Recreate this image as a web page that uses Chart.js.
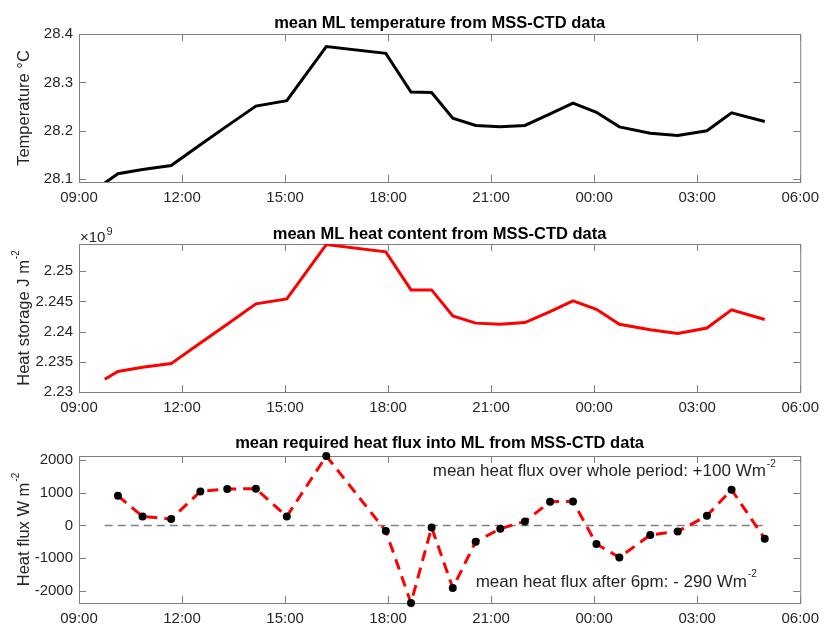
<!DOCTYPE html>
<html>
<head>
<meta charset="utf-8">
<script src="https://cdn.jsdelivr.net/npm/chart.js@4.4.0/dist/chart.umd.min.js"></script>
<style>
  body { margin: 0; background: #fff; }
  #wrap { position: relative; width: 826px; height: 627px; }
  #wrap canvas { position: absolute; left: 0; top: 0; }
</style>
</head>
<body>
<div id="wrap">
  <canvas id="tempChart" width="826" height="627"></canvas>
  <canvas id="heatChart" width="826" height="627"></canvas>
  <canvas id="fluxChart" width="826" height="627"></canvas>
</div>
<script>
// profile times (local time, run starts 09:00)
const times = ["09:45", "10:08", "10:51", "11:41", "12:32", "13:19", "14:09", "15:03", "16:12",
    "17:56", "18:40", "19:16", "19:53", "20:33", "21:16", "21:59", "22:43", "23:23",
    "00:04", "00:44", "01:38", "02:26", "03:17", "04:00", "04:58"];

// mean mixed layer temperature, degC
const temperature = [28.092, 28.111, 28.120, 28.128, 28.171, 28.210, 28.251, 28.262, 28.374,
    28.360, 28.280, 28.279, 28.226, 28.211, 28.208, 28.211, 28.235, 28.257,
    28.238, 28.208, 28.195, 28.190, 28.200, 28.237, 28.219];

// mean mixed layer heat content, x 10^9 J m^-2
const heatContent = [2.2321, 2.2334, 2.2341, 2.2347, 2.2381, 2.2412, 2.2446, 2.2454, 2.2544,
    2.2532, 2.2469, 2.2469, 2.2426, 2.2414, 2.2412, 2.2415, 2.2433, 2.2451,
    2.2437, 2.2412, 2.2403, 2.2397, 2.2406, 2.2436, 2.2420];

// required heat flux, W m^-2 (one value per profile, from the 2nd profile on)
const heatFlux = [911, 276, 196, 1043, 1117, 1126, 276, 2130, -172, -2380, -61, -1920,
    -500, -101, 123, 727, 736, -571, -982, -294, -184, 298, 1095, -408];

// tick values
const timeTicks = [0, 3, 6, 9, 12, 15, 18, 21];   // hours after 09:00
const tempTicks = [28.1, 28.2, 28.3, 28.4];
const heatTicks = [2.23, 2.235, 2.24, 2.245, 2.25];
const fluxTicks = [-2000, -1000, 0, 1000, 2000];

const FONT = "'Liberation Sans', Arial, sans-serif";
const TEXT = "#262626";

function toHours(s) {
    const [h, m] = s.split(":").map(Number);
    return ((h - 9 + 24) % 24) + m / 60;
}

function timeLabel(v) {
    const h = (9 + v) % 24;
    return (h < 10 ? "0" : "") + h + ":00";
}

// text with a superscript part, starting at x (baseline middle)
function drawSup(ctx, x, y, main, sup, size, supSize) {
    ctx.font = size + "px " + FONT;
    ctx.fillText(main, x, y);
    const w = ctx.measureText(main).width;
    if (sup) {
        ctx.font = supSize + "px " + FONT;
        ctx.fillText(sup, x + w + 1, y - size * 0.45);
    }
}

function supWidth(ctx, main, sup, size, supSize) {
    ctx.font = size + "px " + FONT;
    let w = ctx.measureText(main).width;
    if (sup) {
        ctx.font = supSize + "px " + FONT;
        w += ctx.measureText(sup).width + 1;
    }
    return w;
}

// MATLAB-like box, inward ticks, title, axis label
const axesDecor = {
    id: "axesDecor",
    beforeDatasetsDraw(chart, args, opts) {
        const { ctx, chartArea: a, scales: { x, y } } = chart;
        ctx.save();
        ctx.strokeStyle = "#7f7f7f";
        ctx.lineWidth = 1;
        ctx.strokeRect(a.left + 0.5, a.top + 0.5, a.right - a.left, a.bottom - a.top);
        ctx.beginPath();
        x.ticks.forEach(t => {
            const px = Math.round(x.getPixelForValue(t.value)) + 0.5;
            ctx.moveTo(px, a.top); ctx.lineTo(px, a.top + 7);
            ctx.moveTo(px, a.bottom); ctx.lineTo(px, a.bottom - 7);
        });
        y.ticks.forEach(t => {
            const py = Math.round(y.getPixelForValue(t.value)) + 0.5;
            ctx.moveTo(a.left, py); ctx.lineTo(a.left + 7, py);
            ctx.moveTo(a.right, py); ctx.lineTo(a.right - 7, py);
        });
        ctx.stroke();
        ctx.restore();
    },
    afterDraw(chart, args, opts) {
        const { ctx, chartArea: a, scales: { x, y } } = chart;
        ctx.save();
        ctx.fillStyle = "#000";
        ctx.textAlign = "center";
        ctx.textBaseline = "alphabetic";
        ctx.font = "bold 16.5px " + FONT;
        ctx.fillText(opts.title, (a.left + a.right) / 2, a.top - opts.titleGap);

        // y axis label, rotated
        ctx.fillStyle = TEXT;
        ctx.textAlign = "left";
        ctx.textBaseline = "middle";
        const w = supWidth(ctx, opts.yLabel, opts.yLabelSup, 16.5, 10);
        ctx.translate(24, (a.top + a.bottom) / 2);
        ctx.rotate(-Math.PI / 2);
        drawSup(ctx, -w / 2, 0, opts.yLabel, opts.yLabelSup, 16.5, 10);
        ctx.setTransform(1, 0, 0, 1, 0, 0);

        if (opts.exponent) {
            ctx.textBaseline = "alphabetic";
            drawSup(ctx, a.left + 1, a.top - 2, "\u00d710", opts.exponent, 15, 11);
        }
        (opts.notes || []).forEach(n => {
            ctx.textBaseline = "middle";
            drawSup(ctx, x.getPixelForValue(toHours(n.time)), y.getPixelForValue(n.value),
                n.text, n.sup, 17, 10);
        });
        ctx.restore();
    }
};

function makeChart(id, datasets, yMin, yMax, yTicks, yFmt, top, bottom, decor) {
    return new Chart(document.getElementById(id), {
        type: "line",
        data: { datasets: datasets },
        options: {
            responsive: false,
            animation: false,
            devicePixelRatio: 1,
            layout: { padding: { top: top, bottom: 627 - bottom - 30, left: 0, right: 21 } },
            plugins: {
                legend: { display: false },
                tooltip: { enabled: false },
                axesDecor: decor
            },
            scales: {
                x: {
                    type: "linear",
                    min: 0,
                    max: 21,
                    grid: { display: false, drawTicks: false },
                    border: { display: false },
                    afterBuildTicks: s => { s.ticks = timeTicks.map(v => ({ value: v })); },
                    afterFit: s => { s.height = 30; },
                    ticks: {
                        padding: 7,
                        autoSkip: false,
                        maxRotation: 0,
                        color: TEXT,
                        font: { family: FONT, size: 15 },
                        callback: v => timeLabel(v)
                    }
                },
                y: {
                    type: "linear",
                    min: yMin,
                    max: yMax,
                    grid: { display: false, drawTicks: false },
                    border: { display: false },
                    afterBuildTicks: s => { s.ticks = yTicks.map(v => ({ value: v })); },
                    afterFit: s => { s.width = 79; },
                    ticks: {
                        padding: 6,
                        color: TEXT,
                        font: { family: FONT, size: 15 },
                        callback: yFmt
                    }
                }
            }
        },
        plugins: [axesDecor]
    });
}

const hours = times.map(toHours);

makeChart("tempChart", [{
    data: hours.map((h, i) => ({ x: h, y: temperature[i] })),
    borderColor: "#000",
    borderWidth: 3,
    pointRadius: 0,
    tension: 0
}], 28.094, 28.4, tempTicks, v => v.toFixed(1), 34, 182, {
    title: "mean ML temperature from MSS-CTD data",
    titleGap: 6,
    yLabel: "Temperature \u00b0C"
});

makeChart("heatChart", [{
    data: hours.map((h, i) => ({ x: h, y: heatContent[i] })),
    borderColor: "#ff0000",
    borderWidth: 3,
    pointRadius: 0,
    tension: 0
}], 2.23, 2.2545, heatTicks, v => String(Number(v.toFixed(3))), 244, 392, {
    title: "mean ML heat content from MSS-CTD data",
    titleGap: 5,
    yLabel: "Heat storage J m",
    yLabelSup: "-2",
    exponent: "9"
});

makeChart("fluxChart", [{
    data: hours.slice(1).map((h, i) => ({ x: h, y: heatFlux[i] })),
    borderColor: "#ff0000",
    borderWidth: 3,
    borderDash: [11, 7],
    pointRadius: 4,
    pointBorderWidth: 0,
    pointBackgroundColor: "#000",
    tension: 0,
    clip: false
}, {
    data: [{ x: hours[0], y: 0 }, { x: hours[hours.length - 1], y: 0 }],
    borderColor: "#808080",
    borderWidth: 1.5,
    borderDash: [8, 5],
    pointRadius: 0
}], -2380, 2130, fluxTicks, v => String(v), 456, 603, {
    title: "mean required heat flux into ML from MSS-CTD data",
    titleGap: 8,
    yLabel: "Heat flux W m",
    yLabelSup: "-2",
    notes: [
        { time: "19:18", value: 1650, text: "mean heat flux over whole period: +100 Wm", sup: "-2" },
        { time: "20:33", value: -1730, text: "mean heat flux after 6pm: - 290 Wm", sup: "-2" }
    ]
});
</script>
</body>
</html>
